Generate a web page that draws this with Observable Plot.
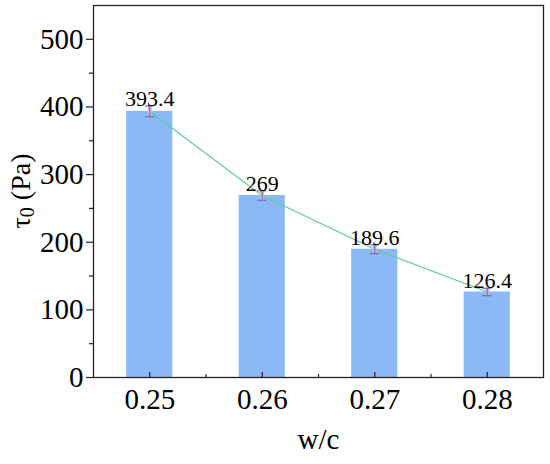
<!DOCTYPE html>
<html><head><meta charset="utf-8">
<script src="https://cdn.jsdelivr.net/npm/d3@7"></script>
<script src="https://cdn.jsdelivr.net/npm/@observablehq/plot@0.6"></script>
<style>
body{margin:0;background:#fff}
svg{display:block}
#wrap{position:relative;width:550px;height:464px}
#ytitle{position:absolute;left:21px;top:191px;transform:translate(-50%,-50%) rotate(-90deg);font-family:"Liberation Serif",serif;font-size:28px;white-space:nowrap;color:#000;line-height:1}
#ytitle sub{font-size:20px;vertical-align:-4px;line-height:0}
</style>
</head><body><div id="wrap"><div id="chart"></div><div id="ytitle"></div></div>
<script>
const wc = [0.25, 0.26, 0.27, 0.28];
const tau = [393.4, 269, 189.6, 126.4];
const err = [8, 7, 6.5, 5.5];
const xTicks = [0.25, 0.26, 0.27, 0.28];
const xMinorTicks = [0.255, 0.265, 0.275];
const yTicks = [0, 100, 200, 300, 400, 500];
const yMinorTicks = [50, 150, 250, 350, 450];
const xTitle = "w/c";
const yTitleSymbol = "\u03c4";
const yTitleSub = "0";
const yTitleUnit = " (Pa)";

const data = wc.map((w, i) => ({w, tau: tau[i], err: err[i], label: String(tau[i])}));
const halfBar = 0.00205, halfCap = 0.0004;
const font = "Liberation Serif";
const ink = "#222";

const plot = Plot.plot({
  width: 550, height: 464,
  marginLeft: 93, marginRight: 7, marginTop: 5, marginBottom: 87,
  x: {type: "linear", domain: [0.245, 0.285]},
  y: {domain: [0, 550]},
  marks: [
    Plot.rectY(data, {x1: d => d.w - halfBar, x2: d => d.w + halfBar, y1: 0, y2: "tau", fill: "#8ab9f5"}),
    Plot.line(data, {x: "w", y: "tau", stroke: "#5ccf94", strokeWidth: 1.2}),
    Plot.ruleX(data, {x: "w", y1: d => d.tau - d.err, y2: d => d.tau + d.err, stroke: "#c7b6e4", strokeWidth: 4}),
    Plot.ruleX(data, {x: "w", y1: d => d.tau - d.err, y2: d => d.tau + d.err, stroke: "#7e6aa8", strokeWidth: 1}),
    Plot.ruleY(data, {y: d => d.tau + d.err, x1: d => d.w - halfCap, x2: d => d.w + halfCap, stroke: "#7e6aa8", strokeWidth: 1.2}),
    Plot.ruleY(data, {y: d => d.tau - d.err, x1: d => d.w - halfCap, x2: d => d.w + halfCap, stroke: "#7e6aa8", strokeWidth: 1.2}),
    Plot.text(data, {x: "w", y: d => d.tau + d.err, text: "label", lineAnchor: "bottom", fontSize: 22, fontFamily: font, fill: "#000"}),
    Plot.frame({stroke: ink, strokeWidth: 1.3}),
    Plot.axisY({ticks: yTicks, tickSize: 7, tickPadding: 3, fontSize: 29, fontFamily: font, label: null, stroke: ink, strokeWidth: 1.2}),
    Plot.axisY({ticks: yMinorTicks, tickSize: 4, tickFormat: () => "", label: null, stroke: ink, strokeWidth: 1.2}),
    Plot.axisX({ticks: xTicks, tickSize: -5, tickFormat: () => "", label: null, stroke: ink, strokeWidth: 1.2}),
    Plot.axisX({ticks: xMinorTicks, tickSize: -3, tickFormat: () => "", label: null, stroke: ink, strokeWidth: 1.2}),
    Plot.axisX({ticks: xTicks, tickSize: 0, tickPadding: 11, fontSize: 29, fontFamily: font, tickFormat: d3.format(".2f"), label: null}),
    Plot.text([xTitle], {text: d => d, frameAnchor: "bottom", dy: 71, fontSize: 29, fontFamily: font, fill: "#000"})
  ]
});
plot.setAttribute("font-family", font);
document.getElementById("chart").appendChild(plot);

// y title as real text with a subscript, rotated beside the axis
const yt = document.getElementById("ytitle");
yt.appendChild(document.createTextNode(yTitleSymbol));
const sub = document.createElement("sub");
sub.textContent = yTitleSub;
yt.appendChild(sub);
yt.appendChild(document.createTextNode(yTitleUnit));
</script>
</body></html>
